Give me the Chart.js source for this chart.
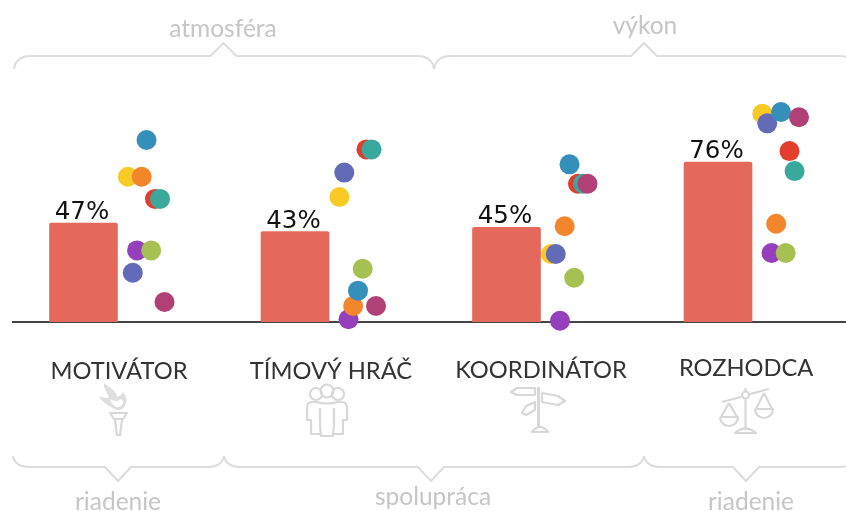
<!DOCTYPE html>
<html>
<head>
<meta charset="utf-8">
<script src="https://cdn.jsdelivr.net/npm/chart.js@4"></script>
<style>
  html, body { margin: 0; padding: 0; background: #fff; }
  #wrap { position: relative; width: 846px; height: 511px; }
</style>
</head>
<body>
<div id="wrap"><canvas id="chart" width="846" height="511"></canvas></div>
<script>
const categories = ["MOTIVÁTOR", "TÍMOVÝ HRÁČ", "KOORDINÁTOR", "ROZHODCA"];
const barValues = [47, 43, 45, 76];

// one value per category, order: motivator, timovy hrac, koordinator, rozhodca
const yellowValues = [69, 59.4, 32.3, 99];
const purpleValues = [34, 1.3, 0.6, 32.8];
const orangeValues = [69, 7.6, 45.5, 46.7];
const redValues = [58.5, 82, 65.7, 81.2];
const tealValues = [58.5, 82, 65.7, 71.7];
const indigoValues = [23.4, 71, 32.3, 94.4];
const blueValues = [86.5, 14.9, 74.9, 99.8];
const greenValues = [34, 25.3, 21, 32.8];
const magentaValues = [9.5, 7.6, 65.7, 97.3];

// listed bottom to top
const dotSeries = [
  { values: yellowValues, color: "#f9ca24", jitter: 0.21 },
  { values: purpleValues, color: "#963fbc", jitter: 0.253 },
  { values: orangeValues, color: "#f3852b", jitter: 0.275 },
  { values: redValues, color: "#e33d2d", jitter: 0.338 },
  { values: tealValues, color: "#38a99c", jitter: 0.362 },
  { values: indigoValues, color: "#636ab8", jitter: 0.233 },
  { values: blueValues, color: "#3490bb", jitter: 0.298 },
  { values: greenValues, color: "#a6c152", jitter: 0.32 },
  { values: magentaValues, color: "#b04076", jitter: 0.383 },
];

const labelShifts = [0.168, 0.17, 0.163, 0.133];
const labelLineHeights = [1.2, 1.2, 1.12, 0.95];

const BRACE_COLOR = "#dddddd";
const ICON_COLOR = "#d8d8d8";
const FLAME_COLOR = "#dedede";
const GROUP_TEXT = "#c6c6c6";

// Percent labels above bars
const barLabels = {
  id: "barLabels",
  afterDatasetsDraw(chart) {
    const ctx = chart.ctx;
    const meta = chart.getDatasetMeta(dotSeries.length);
    ctx.save();
    ctx.font = "24.5px 'DejaVu Sans'";
    ctx.fillStyle = "#111";
    ctx.textAlign = "center";
    ctx.textBaseline = "alphabetic";
    meta.data.forEach((bar, i) => {
      ctx.fillText(barValues[i] + "%", bar.x - 1.5, bar.y - 4);
    });
    ctx.restore();
  },
};

// Brace: start, middle tip, end
function drawBrace(ctx, x0, xTip, x1, yEnd, yLine, yTip) {
  const r = 17;
  ctx.beginPath();
  ctx.moveTo(x0, yEnd);
  ctx.quadraticCurveTo(x0 + 2, yLine, x0 + r, yLine);
  ctx.lineTo(xTip - 13, yLine);
  ctx.lineTo(xTip, yTip);
  ctx.lineTo(xTip + 13, yLine);
  ctx.lineTo(x1 - r, yLine);
  ctx.quadraticCurveTo(x1 - 2, yLine, x1, yEnd);
  ctx.stroke();
}

function drawTorch(ctx) {
  ctx.beginPath();
  ctx.moveTo(110, 413); ctx.lineTo(127, 413); ctx.lineTo(123, 419); ctx.lineTo(114, 419); ctx.closePath();
  ctx.moveTo(115, 420); ctx.lineTo(117, 435); ctx.lineTo(120, 435); ctx.lineTo(122, 420);
  ctx.stroke();
  // flame
  ctx.save();
  ctx.fillStyle = FLAME_COLOR;
  ctx.beginPath();
  ctx.moveTo(117, 410);
  ctx.bezierCurveTo(108, 406, 102, 402, 99, 396);
  ctx.bezierCurveTo(104, 398, 108, 399, 109, 397);
  ctx.bezierCurveTo(107, 392, 103, 388, 104, 383);
  ctx.bezierCurveTo(110, 388, 117, 391, 117, 397);
  ctx.bezierCurveTo(120, 396, 122, 394, 123, 392);
  ctx.bezierCurveTo(129, 400, 127, 407, 120, 410);
  ctx.closePath();
  ctx.moveTo(116, 407);
  ctx.bezierCurveTo(112, 404, 110, 401, 110, 399);
  ctx.bezierCurveTo(114, 401, 117, 402, 121, 399);
  ctx.bezierCurveTo(124, 401, 124, 405, 119, 407);
  ctx.closePath();
  ctx.fill("evenodd");
  ctx.restore();
}

function drawPeople(ctx) {
  ctx.beginPath();
  ctx.arc(327, 391, 6.5, 0, Math.PI * 2);
  ctx.moveTo(322, 394); ctx.arc(316, 394, 6, 0, Math.PI * 2);
  ctx.moveTo(344, 394); ctx.arc(338, 394, 6, 0, Math.PI * 2);
  ctx.stroke();
  ctx.beginPath();
  ctx.moveTo(316, 402); ctx.lineTo(312, 402); ctx.quadraticCurveTo(307, 402, 307, 408);
  ctx.lineTo(307, 420); ctx.lineTo(311, 420); ctx.lineTo(311, 434); ctx.lineTo(320, 434);
  ctx.moveTo(316, 402); ctx.quadraticCurveTo(327, 405, 338, 402);
  ctx.lineTo(342, 402); ctx.quadraticCurveTo(347, 402, 347, 408);
  ctx.lineTo(347, 420); ctx.lineTo(343, 420); ctx.lineTo(343, 434); ctx.lineTo(334, 434);
  ctx.moveTo(320, 408); ctx.lineTo(320, 425); ctx.lineTo(321, 436); ctx.lineTo(333, 436); ctx.lineTo(334, 425); ctx.lineTo(334, 408);
  ctx.stroke();
}

function drawSignpost(ctx) {
  ctx.save();
  ctx.lineWidth = 3;
  ctx.beginPath();
  ctx.moveTo(538.5, 387); ctx.lineTo(538.5, 427);
  ctx.stroke();
  ctx.restore();
  ctx.beginPath();
  ctx.moveTo(532, 432); ctx.quadraticCurveTo(540, 422, 548, 432); ctx.closePath();
  ctx.moveTo(535, 388); ctx.lineTo(517, 388); ctx.lineTo(511, 392); ctx.lineTo(517, 395); ctx.lineTo(535, 395); ctx.closePath();
  ctx.moveTo(542, 393); ctx.lineTo(558, 396); ctx.lineTo(565, 401); ctx.lineTo(558, 405); ctx.lineTo(542, 402); ctx.closePath();
  ctx.moveTo(535, 402); ctx.lineTo(526, 406); ctx.lineTo(522, 413); ctx.lineTo(526, 415); ctx.lineTo(535, 410); ctx.closePath();
  ctx.stroke();
}

function drawScales(ctx) {
  ctx.beginPath();
  ctx.moveTo(722, 402); ctx.lineTo(741, 397);
  ctx.moveTo(750, 394); ctx.lineTo(769, 389);
  ctx.moveTo(745.5, 388); ctx.lineTo(745.5, 391);
  ctx.moveTo(745.5, 399); ctx.lineTo(745.5, 428);
  ctx.moveTo(735, 433); ctx.quadraticCurveTo(745.5, 424, 756, 433); ctx.closePath();
  ctx.moveTo(729, 403); ctx.lineTo(721, 417); ctx.moveTo(729, 403); ctx.lineTo(737, 417);
  ctx.moveTo(720, 417); ctx.lineTo(738, 417); ctx.arc(729, 417, 9, 0, Math.PI);
  ctx.moveTo(764, 393); ctx.lineTo(756, 409); ctx.moveTo(764, 393); ctx.lineTo(772, 409);
  ctx.moveTo(755, 409); ctx.lineTo(773, 409); ctx.arc(764, 409, 9, 0, Math.PI);
  ctx.moveTo(749, 395); ctx.arc(745.5, 395, 3.5, 0, Math.PI * 2);
  ctx.stroke();
}

// Braces, group names and icons around the plot
const decorations = {
  id: "decorations",
  afterDraw(chart) {
    const ctx = chart.ctx;
    ctx.save();
    ctx.strokeStyle = BRACE_COLOR;
    ctx.lineWidth = 2;
    ctx.lineJoin = "round";
    drawBrace(ctx, 14, 223.5, 434, 69, 56, 43);
    drawBrace(ctx, 434, 644, 856, 69, 56, 43);
    drawBrace(ctx, 13, 118, 224, 456, 467, 481);
    drawBrace(ctx, 224, 431, 644, 456, 467, 481);
    drawBrace(ctx, 644, 746, 856, 456, 467, 481);

    ctx.font = "24.5px Lato";
    ctx.fillStyle = GROUP_TEXT;
    ctx.textAlign = "center";
    ctx.textBaseline = "middle";
    ctx.fillText("atmosféra", 223, 29);
    ctx.fillText("výkon", 645, 26);
    ctx.fillText("riadenie", 118, 502);
    ctx.fillText("spolupráca", 433, 497);
    ctx.fillText("riadenie", 751, 502);

    ctx.strokeStyle = ICON_COLOR;
    ctx.fillStyle = ICON_COLOR;
    ctx.lineWidth = 2.2;
    drawTorch(ctx);
    drawPeople(ctx);
    drawSignpost(ctx);
    drawScales(ctx);
    ctx.restore();
  },
};

// first dataset is painted last, so the top dot goes first
const datasets = dotSeries.slice().reverse().map((s) => ({
  type: "scatter",
  data: s.values.map((v, i) => ({ x: i + s.jitter, y: v })),
  backgroundColor: s.color,
  pointRadius: 10,
  pointBorderWidth: 0,
  clip: false,
  order: 1,
}));
datasets.push({
  type: "bar",
  data: barValues.map((v, i) => ({ x: i, y: v })),
  backgroundColor: "#e5695b",
  barThickness: 68,
  borderRadius: 2,
  order: 2,
});

new Chart(document.getElementById("chart"), {
  type: "bar",
  data: { datasets },
  plugins: [barLabels, decorations],
  options: {
    responsive: false,
    animation: false,
    layout: { autoPadding: false, padding: { left: 13, right: 0, top: 0, bottom: 0 } },
    plugins: { legend: { display: false }, tooltip: { enabled: false } },
    scales: {
      x: {
        type: "linear",
        offset: false,
        min: -0.3333,
        max: 3.6052,
        afterBuildTicks: (scale) => {
          scale.ticks = categories.map((c, i) => ({ value: i + labelShifts[i] }));
        },
        afterFit: (scale) => {
          scale.height = 189;
          scale.paddingLeft = 0;
          scale.paddingRight = 0;
        },
        grid: { display: false, offset: false },
        border: { display: true, color: "#444444", width: 2 },
        ticks: {
          callback: (v, i) => categories[i],
          autoSkip: false,
          maxRotation: 0,
          padding: 27,
          color: "#333333",
          font: (c) => ({ family: "Lato", size: 23.7, weight: "400", lineHeight: labelLineHeights[c.index] }),
        },
      },
      y: {
        display: false,
        min: 0,
        max: 153,
      },
    },
  },
});
</script>
</body>
</html>
